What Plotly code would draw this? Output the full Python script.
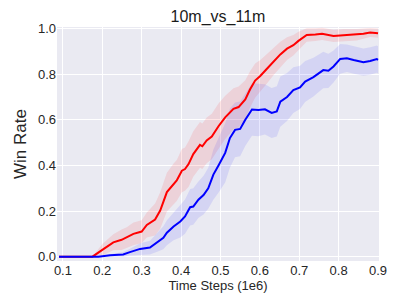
import plotly.graph_objects as go

# ---- data ----
red_x = [0.09, 0.175, 0.20, 0.228, 0.249, 0.262, 0.279, 0.30, 0.313, 0.334, 0.347, 0.364, 0.381, 0.389,
         0.402, 0.410, 0.419, 0.431, 0.448, 0.454, 0.465, 0.478, 0.495, 0.512, 0.533, 0.546, 0.563, 0.575,
         0.588, 0.601, 0.618, 0.635, 0.652, 0.669, 0.685, 0.698, 0.711, 0.719, 0.741, 0.758, 0.787, 0.813,
         0.846, 0.863, 0.880, 0.90]
red_y = [0.0, 0.0, 0.03, 0.063, 0.074, 0.084, 0.10, 0.11, 0.139, 0.163, 0.202, 0.283, 0.319, 0.334,
         0.377, 0.384, 0.406, 0.45, 0.49, 0.484, 0.51, 0.527, 0.572, 0.611, 0.648, 0.656, 0.689, 0.733,
         0.772, 0.792, 0.824, 0.857, 0.887, 0.912, 0.927, 0.946, 0.961, 0.972, 0.974, 0.977, 0.968, 0.971,
         0.973, 0.977, 0.983, 0.980]
red_sd = [0.0, 0.0, 0.025, 0.035, 0.045, 0.045, 0.05, 0.05, 0.055, 0.07, 0.08, 0.085, 0.09, 0.09,
          0.095, 0.095, 0.1, 0.1, 0.1, 0.1, 0.1, 0.1, 0.1, 0.095, 0.09, 0.09, 0.085, 0.08,
          0.075, 0.07, 0.065, 0.06, 0.055, 0.05, 0.045, 0.04, 0.035, 0.03, 0.028, 0.027, 0.027, 0.027,
          0.025, 0.022, 0.02, 0.02]

blue_x = [0.09, 0.19, 0.22, 0.253, 0.27, 0.296, 0.321, 0.338, 0.355, 0.364, 0.381, 0.398, 0.410, 0.423,
          0.431, 0.444, 0.457, 0.469, 0.482, 0.495, 0.512, 0.524, 0.537, 0.550, 0.563, 0.580, 0.596, 0.613,
          0.630, 0.643, 0.652, 0.669, 0.685, 0.702, 0.715, 0.736, 0.761, 0.774, 0.787, 0.804, 0.821, 0.838,
          0.863, 0.880, 0.897, 0.90]
blue_y = [0.0, 0.0, 0.006, 0.01, 0.02, 0.034, 0.04, 0.061, 0.083, 0.105, 0.132, 0.154, 0.176, 0.217,
          0.22, 0.25, 0.27, 0.30, 0.36, 0.40, 0.455, 0.52, 0.556, 0.560, 0.600, 0.645, 0.643, 0.646,
          0.630, 0.637, 0.680, 0.700, 0.730, 0.742, 0.768, 0.787, 0.818, 0.815, 0.834, 0.867, 0.870, 0.862,
          0.853, 0.858, 0.866, 0.863]
blue_sd = [0.0, 0.0, 0.005, 0.01, 0.015, 0.025, 0.03, 0.04, 0.05, 0.055, 0.06, 0.07, 0.075, 0.08,
           0.08, 0.08, 0.085, 0.09, 0.11, 0.12, 0.13, 0.13, 0.12, 0.12, 0.115, 0.115, 0.115, 0.11,
           0.11, 0.11, 0.11, 0.105, 0.1, 0.095, 0.09, 0.085, 0.08, 0.075, 0.07, 0.065, 0.06, 0.06,
           0.06, 0.06, 0.06, 0.06]

x_ticks = [0.1, 0.2, 0.3, 0.4, 0.5, 0.6, 0.7, 0.8, 0.9]
y_ticks = [0.0, 0.2, 0.4, 0.6, 0.8, 1.0]

FONT = "Liberation Sans, Arial, sans-serif"

fig = go.Figure()


def add_series(xs, ys, sds, fill_col):
    hi = [y + s for y, s in zip(ys, sds)]
    lo = [max(y - s, 0.0) for y, s in zip(ys, sds)]
    fig.add_trace(go.Scatter(x=xs, y=hi, mode="lines", line=dict(width=0),
                             showlegend=False, hoverinfo="skip"))
    fig.add_trace(go.Scatter(x=xs, y=lo, mode="lines", line=dict(width=0), fill="tonexty",
                             fillcolor=fill_col, showlegend=False, hoverinfo="skip"))


add_series(red_x, red_y, red_sd, "rgba(255,0,0,0.10)")
add_series(blue_x, blue_y, blue_sd, "rgba(0,0,255,0.09)")
fig.add_trace(go.Scatter(x=red_x, y=red_y, mode="lines", line=dict(color="#ff0000", width=2),
                         showlegend=False))
fig.add_trace(go.Scatter(x=blue_x, y=blue_y, mode="lines", line=dict(color="#0000ff", width=2),
                         showlegend=False))

# page body has an 8px margin, so the figure is drawn 8px in from the top-left
W, H = 399, 297
fig.update_layout(
    width=W, height=H,
    margin=dict(l=49, r=28, t=19, b=44, autoexpand=False),
    paper_bgcolor="white",
    plot_bgcolor="#EAEAF2",
    font=dict(family=FONT, color="#262626", size=13),
    title=dict(text="10m_vs_11m", x=0.5, xanchor="center", xref="paper",
               y=1 - 8 / H, yanchor="middle", yref="container",
               font=dict(size=16, color="#1a1a1a"), automargin=False),
    showlegend=False,
)
fig.update_xaxes(range=[0.085, 0.9025], tickmode="array", tickvals=x_ticks,
                 ticktext=[f"{v:.1f}" for v in x_ticks], automargin=False,
                 showgrid=True, gridcolor="white", gridwidth=1, zeroline=False,
                 showline=False, ticks="", tickfont=dict(size=13),
                 title=dict(text="Time Steps (1e6)", font=dict(size=13), standoff=2))
fig.update_yaxes(range=[-0.019, 1.007], tickmode="array", tickvals=y_ticks,
                 ticktext=[f"{v:.1f}" for v in y_ticks], automargin=False,
                 showgrid=True, gridcolor="white", gridwidth=1, zeroline=False,
                 showline=False, ticks="", tickfont=dict(size=13),
                 title=dict(text="Win Rate", font=dict(size=17), standoff=6))

fig.write_html("out.html")
